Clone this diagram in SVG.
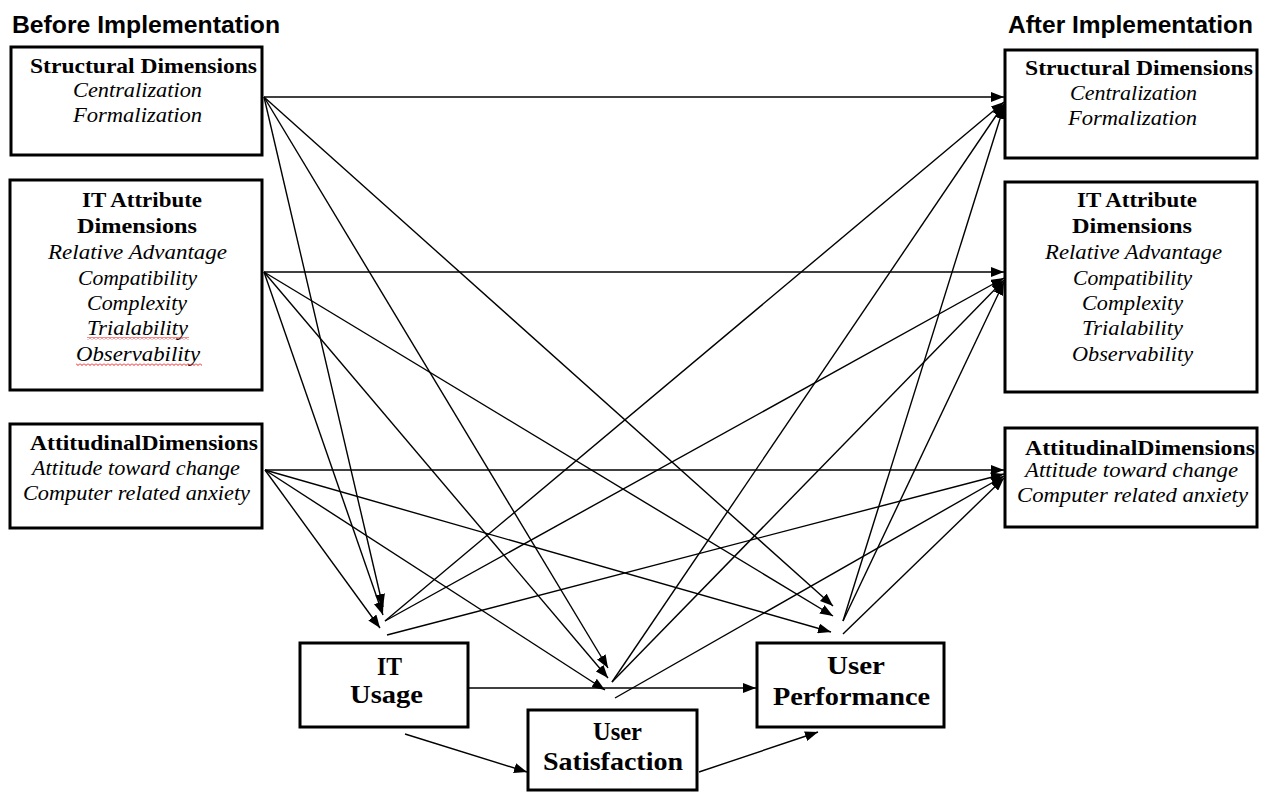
<svg xmlns="http://www.w3.org/2000/svg" width="1265" height="792" viewBox="0 0 1265 792">
<style>
.box{fill:#fff;stroke:#000;stroke-width:3}
.hdr{font-family:"Liberation Sans",Arial,sans-serif;font-weight:bold;font-size:24px;fill:#000}
.bt{font-family:"Liberation Serif","Times New Roman",serif;font-weight:bold;font-size:21px;fill:#000}
.it{font-family:"Liberation Serif","Times New Roman",serif;font-style:italic;font-size:20px;fill:#000}
.big{font-family:"Liberation Serif","Times New Roman",serif;font-weight:bold;font-size:26px;fill:#000}
.c line{stroke:#000;stroke-width:1.4;marker-end:url(#ah)}
</style>
<defs>
<marker id="ah" markerUnits="userSpaceOnUse" markerWidth="13" markerHeight="10" refX="13" refY="5" orient="auto">
<path d="M0,0 L13,5 L0,10 z" fill="#000"/>
</marker>
<pattern id="squiggle" x="0" y="0" width="4" height="3" patternUnits="userSpaceOnUse">
<polyline points="0,0.5 2,2.5 4,0.5" fill="none" stroke="#e00" stroke-width="0.9"/>
</pattern>
</defs>
<rect width="1265" height="792" fill="#fff"/>

<text class="hdr" x="12" y="33" textLength="268" lengthAdjust="spacingAndGlyphs">Before Implementation</text>
<text class="hdr" x="1008" y="33" textLength="245" lengthAdjust="spacingAndGlyphs">After Implementation</text>

<g class="c" id="connectors">
<line x1="264" y1="97" x2="1004" y2="97"/>
<line x1="264" y1="97" x2="383" y2="607"/>
<line x1="264" y1="97" x2="608" y2="668"/>
<line x1="264" y1="97" x2="833" y2="606"/>
<line x1="264" y1="272" x2="1004" y2="272"/>
<line x1="264" y1="272" x2="383" y2="615"/>
<line x1="264" y1="272" x2="608" y2="678"/>
<line x1="264" y1="272" x2="833" y2="616"/>
<line x1="265" y1="470" x2="1004" y2="470"/>
<line x1="265" y1="470" x2="380" y2="628"/>
<line x1="265" y1="470" x2="605" y2="690"/>
<line x1="265" y1="470" x2="831" y2="632"/>
<line x1="385" y1="621" x2="1004" y2="102"/>
<line x1="385" y1="621" x2="1004" y2="278"/>
<line x1="387" y1="635" x2="1004" y2="474"/>
<line x1="612" y1="682" x2="1004" y2="104"/>
<line x1="612" y1="682" x2="1004" y2="280"/>
<line x1="615" y1="698" x2="1004" y2="476"/>
<line x1="843" y1="621" x2="1004" y2="106"/>
<line x1="843" y1="621" x2="1004" y2="282"/>
<line x1="843" y1="634" x2="1004" y2="478"/>
<line x1="468" y1="688" x2="756" y2="688"/>
<line x1="405" y1="734" x2="527" y2="772"/>
<line x1="699" y1="772" x2="818" y2="732"/>
</g>

<g id="before-structural">
<rect class="box" x="11" y="47" width="251" height="108"/>
<text class="bt" x="30" y="73" textLength="227" lengthAdjust="spacingAndGlyphs">Structural Dimensions</text>
<text class="it" x="73" y="97" textLength="129" lengthAdjust="spacingAndGlyphs">Centralization</text>
<text class="it" x="73" y="122" textLength="129" lengthAdjust="spacingAndGlyphs">Formalization</text>
</g>

<g id="before-it-attribute">
<rect class="box" x="10" y="180" width="252" height="210"/>
<text class="bt" x="82" y="207" textLength="120" lengthAdjust="spacingAndGlyphs">IT Attribute</text>
<text class="bt" x="77" y="233" textLength="120" lengthAdjust="spacingAndGlyphs">Dimensions</text>
<text class="it" x="48" y="259" textLength="179" lengthAdjust="spacingAndGlyphs">Relative  Advantage</text>
<text class="it" x="78" y="285" textLength="119" lengthAdjust="spacingAndGlyphs">Compatibility</text>
<text class="it" x="87" y="310" textLength="100" lengthAdjust="spacingAndGlyphs">Complexity</text>
<text class="it" x="87" y="335" textLength="101" lengthAdjust="spacingAndGlyphs">Trialability</text>
<text class="it" x="76" y="361" textLength="124" lengthAdjust="spacingAndGlyphs">Observability</text>
<rect x="87" y="337" width="102" height="3" fill="url(#squiggle)"/>
<rect x="76" y="363" width="126" height="3" fill="url(#squiggle)"/>
</g>

<g id="before-attitudinal">
<rect class="box" x="10" y="424" width="252" height="104"/>
<text class="bt" x="30" y="450" textLength="228" lengthAdjust="spacingAndGlyphs">AttitudinalDimensions</text>
<text class="it" x="32" y="475" textLength="208" lengthAdjust="spacingAndGlyphs">Attitude toward change</text>
<text class="it" x="23" y="500" textLength="227" lengthAdjust="spacingAndGlyphs">Computer related anxiety</text>
</g>

<g id="after-structural">
<rect class="box" x="1005" y="50" width="252" height="108"/>
<text class="bt" x="1025" y="75" textLength="228" lengthAdjust="spacingAndGlyphs">Structural Dimensions</text>
<text class="it" x="1070" y="100" textLength="127" lengthAdjust="spacingAndGlyphs">Centralization</text>
<text class="it" x="1068" y="125" textLength="129" lengthAdjust="spacingAndGlyphs">Formalization</text>
</g>

<g id="after-it-attribute">
<rect class="box" x="1005" y="182" width="252" height="210"/>
<text class="bt" x="1077" y="207" textLength="120" lengthAdjust="spacingAndGlyphs">IT Attribute</text>
<text class="bt" x="1072" y="233" textLength="120" lengthAdjust="spacingAndGlyphs">Dimensions</text>
<text class="it" x="1045" y="259" textLength="177" lengthAdjust="spacingAndGlyphs">Relative  Advantage</text>
<text class="it" x="1073" y="285" textLength="119" lengthAdjust="spacingAndGlyphs">Compatibility</text>
<text class="it" x="1082" y="310" textLength="101" lengthAdjust="spacingAndGlyphs">Complexity</text>
<text class="it" x="1082" y="335" textLength="101" lengthAdjust="spacingAndGlyphs">Trialability</text>
<text class="it" x="1072" y="361" textLength="121" lengthAdjust="spacingAndGlyphs">Observability</text>
</g>

<g id="after-attitudinal">
<rect class="box" x="1005" y="428" width="252" height="99"/>
<text class="bt" x="1025" y="455" textLength="230" lengthAdjust="spacingAndGlyphs">AttitudinalDimensions</text>
<text class="it" x="1025" y="477" textLength="213" lengthAdjust="spacingAndGlyphs">Attitude toward change</text>
<text class="it" x="1017" y="502" textLength="231" lengthAdjust="spacingAndGlyphs">Computer related anxiety</text>
</g>

<g id="it-usage">
<rect class="box" x="300" y="643" width="168" height="84"/>
<text class="big" x="377" y="675" textLength="25" lengthAdjust="spacingAndGlyphs">IT</text>
<text class="big" x="350" y="703" textLength="73" lengthAdjust="spacingAndGlyphs">Usage</text>
</g>

<g id="user-satisfaction">
<rect class="box" x="528" y="710" width="169" height="80"/>
<text class="big" x="593" y="740" textLength="49" lengthAdjust="spacingAndGlyphs">User</text>
<text class="big" x="543" y="770" textLength="140" lengthAdjust="spacingAndGlyphs">Satisfaction</text>
</g>

<g id="user-performance">
<rect class="box" x="757" y="643" width="187" height="84"/>
<text class="big" x="827" y="674" textLength="58" lengthAdjust="spacingAndGlyphs">User</text>
<text class="big" x="773" y="705" textLength="157" lengthAdjust="spacingAndGlyphs">Performance</text>
</g>
</svg>
